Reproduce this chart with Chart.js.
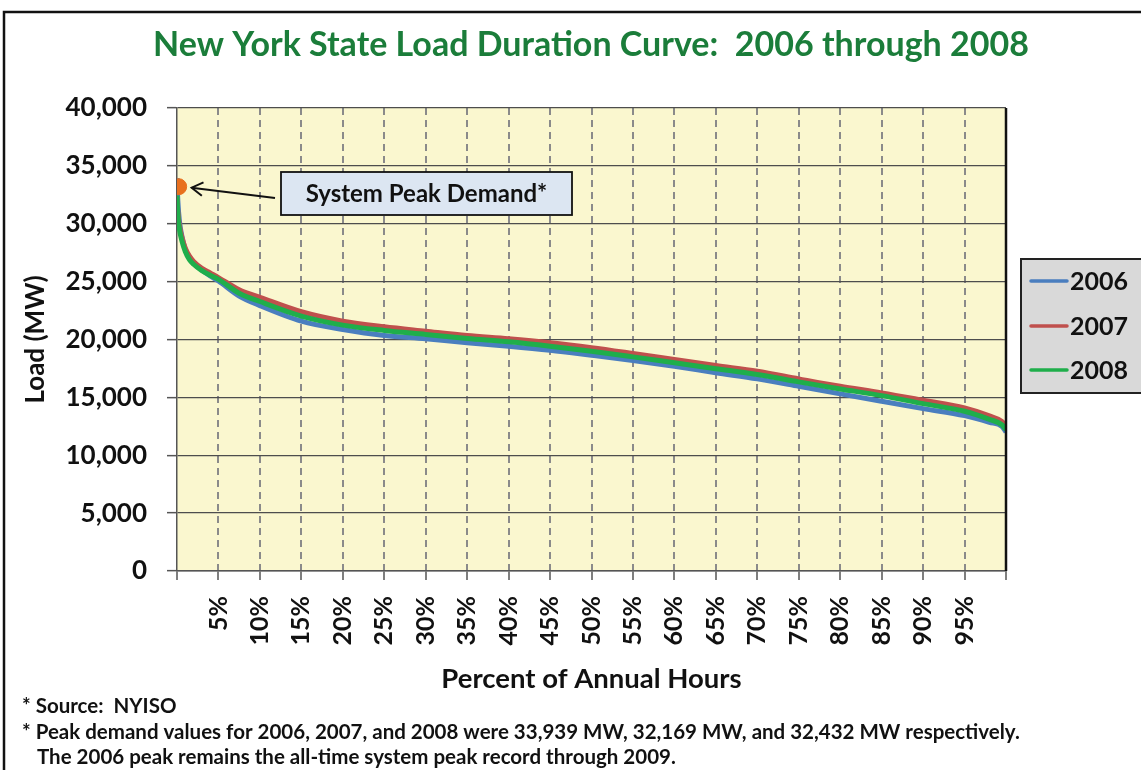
<!DOCTYPE html>
<html>
<head>
<meta charset="utf-8">
<script src="https://cdn.jsdelivr.net/npm/chart.js@4.4.1/dist/chart.umd.min.js"></script>
<style>
  html, body { margin: 0; padding: 0; background: #ffffff; }
  #wrap { position: relative; width: 1141px; height: 770px; }
</style>
</head>
<body>
<div id="wrap"><canvas id="c" width="1141" height="770"></canvas></div>
<script>
// ---------------- DATA ----------------
const titleText = 'New York State Load Duration Curve:  2006 through 2008';
const xAxisTitle = 'Percent of Annual Hours';
const yAxisTitle = 'Load (MW)';
const seriesLabels = ['2006', '2007', '2008'];
const pctHours = [0, 0.1, 0.3, 0.6, 1, 1.5, 2, 3, 4, 5, 7.5, 10, 15, 20, 25, 30, 35, 40, 45, 50, 55, 60, 65, 70, 75, 80, 85, 90, 95, 98, 99.5, 100];
const load2006 = [33939, 32000, 30200, 28900, 27800, 27100, 26600, 26000, 25500, 25050, 23750, 22930, 21590, 20870, 20350, 20065, 19720, 19425, 19080, 18645, 18190, 17690, 17130, 16600, 15960, 15300, 14660, 14030, 13420, 12850, 12500, 12000];
const load2007 = [32169, 31000, 29800, 28800, 27900, 27200, 26750, 26150, 25750, 25350, 24300, 23650, 22400, 21590, 21100, 20720, 20350, 20065, 19720, 19290, 18790, 18270, 17750, 17260, 16600, 15960, 15390, 14750, 14090, 13400, 12930, 12500];
const load2008 = [32432, 30800, 29500, 28500, 27600, 26900, 26500, 25950, 25550, 25200, 24000, 23280, 22020, 21240, 20780, 20440, 20090, 19800, 19425, 18990, 18500, 17990, 17480, 16970, 16340, 15730, 15150, 14460, 13800, 13100, 12640, 12210];
const xTickValues = [5, 10, 15, 20, 25, 30, 35, 40, 45, 50, 55, 60, 65, 70, 75, 80, 85, 90, 95];
const yTickStep = 5000;
const yMax = 40000;
const peakMarker = { x: 0.2, y: 33200 };
const annotationText = 'System Peak Demand*';
const footnotes = [
  '* Source:  NYISO',
  '* Peak demand values for 2006, 2007, and 2008 were 33,939 MW, 32,169 MW, and 32,432 MW respectively.',
  'The 2006 peak remains the all-time system peak record through 2009.'
];

// ---------------- STYLE ----------------
const colors = ['#4a7ebf', '#c0504d', '#1fae4b'];
const FONT = 'Lato, "Open Sans", "Liberation Sans", sans-serif';

function toPoints(xs, ys) { return xs.map((x, i) => ({ x: x, y: ys[i] })); }

const seriesData = [load2006, load2007, load2008];
const datasets = seriesData.map((arr, i) => ({
  label: seriesLabels[i],
  data: toPoints(pctHours, arr),
  borderColor: colors[i],
  backgroundColor: colors[i],
  borderWidth: 5,
  pointRadius: 0,
  cubicInterpolationMode: 'monotone',
  fill: false,
  order: 3 - i
}));
datasets.push({
  label: 'peak',
  data: [peakMarker],
  showLine: false,
  pointRadius: 8,
  pointHoverRadius: 8,
  pointBackgroundColor: '#e8701f',
  pointBorderColor: '#e8701f',
  order: 0,
  isMarker: true
});

const decor = {
  id: 'decor',
  beforeDraw(chart) {
    const ctx = chart.ctx;
    const a = chart.chartArea;
    ctx.save();
    ctx.fillStyle = '#ffffff';
    ctx.fillRect(0, 0, chart.width, chart.height);
    ctx.strokeStyle = '#111';
    ctx.lineWidth = 2.5;
    ctx.strokeRect(4, 12, chart.width + 20, chart.height + 20);
    ctx.fillStyle = '#faf7cf';
    ctx.fillRect(a.left, a.top, a.right - a.left, a.bottom - a.top);
    ctx.restore();
  },
  afterDatasetsDraw(chart) {
    const ctx = chart.ctx;
    const xs = chart.scales.x, ys = chart.scales.y;
    const px = xs.getPixelForValue(peakMarker.x);
    const py = ys.getPixelForValue(peakMarker.y);
    ctx.save();
    // annotation box
    const bx = 281, by = 172, bw = 291, bh = 43;
    ctx.fillStyle = '#dce6f2';
    ctx.fillRect(bx, by, bw, bh);
    ctx.strokeStyle = '#111';
    ctx.lineWidth = 1.8;
    ctx.strokeRect(bx, by, bw, bh);
    ctx.fillStyle = '#111';
    ctx.font = 'bold 24px ' + FONT;
    ctx.textAlign = 'center';
    ctx.textBaseline = 'middle';
    ctx.fillText(annotationText, bx + bw / 2, by + bh / 2 + 1);
    // arrow
    const tipX = px + 13, tipY = py + 1;
    const tailX = 275, tailY = 198;
    ctx.strokeStyle = '#111';
    ctx.lineWidth = 2;
    ctx.beginPath();
    ctx.moveTo(tailX, tailY);
    ctx.lineTo(tipX, tipY);
    ctx.stroke();
    const ang = Math.atan2(tailY - tipY, tailX - tipX);
    const hl = 13, hw = 0.55;
    ctx.beginPath();
    ctx.moveTo(tipX + hl * Math.cos(ang - hw), tipY + hl * Math.sin(ang - hw));
    ctx.lineTo(tipX, tipY);
    ctx.lineTo(tipX + hl * Math.cos(ang + hw), tipY + hl * Math.sin(ang + hw));
    ctx.stroke();
    ctx.restore();
  },
  afterDraw(chart) {
    const ctx = chart.ctx;
    const a = chart.chartArea;
    ctx.save();
    // plot right border
    ctx.strokeStyle = '#111';
    ctx.lineWidth = 2.5;
    ctx.beginPath();
    ctx.moveTo(a.right, a.top);
    ctx.lineTo(a.right, a.bottom);
    ctx.stroke();
    // title
    ctx.fillStyle = '#1b7d3a';
    ctx.font = 'bold 34px ' + FONT;
    ctx.textAlign = 'center';
    ctx.textBaseline = 'middle';
    ctx.fillText(titleText, 591, 45);
    // footnotes
    ctx.fillStyle = '#111';
    ctx.font = 'bold 20.5px ' + FONT;
    ctx.textAlign = 'left';
    ctx.fillText(footnotes[0], 22, 706);
    ctx.fillText(footnotes[1], 22, 732);
    ctx.fillText(footnotes[2], 37, 757);
    // legend
    const lx = 1021, ly = 259, lw = 130, lh = 134;
    ctx.fillStyle = '#d9d9d9';
    ctx.fillRect(lx, ly, lw, lh);
    ctx.strokeStyle = '#222';
    ctx.lineWidth = 2;
    ctx.strokeRect(lx, ly, lw, lh);
    const rows = [281, 326, 370];
    chart.data.datasets.filter(d => !d.isMarker).forEach((d, i) => {
      ctx.strokeStyle = d.borderColor;
      ctx.lineWidth = 3.5;
      ctx.lineCap = 'round';
      ctx.beginPath();
      ctx.moveTo(1031, rows[i]);
      ctx.lineTo(1067, rows[i]);
      ctx.stroke();
      ctx.fillStyle = '#111';
      ctx.font = 'bold 25px ' + FONT;
      ctx.textAlign = 'left';
      ctx.textBaseline = 'middle';
      ctx.fillText(d.label, 1070, rows[i] + 1);
    });
    ctx.restore();
  }
};

new Chart(document.getElementById('c'), {
  type: 'line',
  data: { datasets: datasets },
  options: {
    responsive: false,
    animation: false,
    events: [],
    layout: { padding: { top: 108, right: 135, bottom: 74, left: 0 } },
    plugins: {
      legend: { display: false },
      title: { display: false },
      tooltip: { enabled: false }
    },
    scales: {
      x: {
        type: 'linear',
        min: 0,
        max: 100,
        afterFit(s) { s.height = 125; },
        afterBuildTicks(s) {
          s.ticks = [0].concat(xTickValues, [100]).map(v => ({ value: v }));
        },
        ticks: {
          autoSkip: false,
          maxRotation: 90,
          minRotation: 90,
          padding: 16,
          color: '#111',
          font: { family: FONT, size: 25, weight: 'bold' },
          callback: v => (xTickValues.includes(v) ? v + '%' : '')
        },
        grid: {
          color: c => (c.tick && (c.tick.value === 0 || c.tick.value === 100)) ? 'rgba(0,0,0,0)' : '#8a8a8a',
          lineWidth: 2,
          tickLength: 9,
          tickColor: '#555',
          tickWidth: 1.5,
          tickBorderDash: []
        },
        border: { display: true, color: '#555', width: 1.5, dash: [7, 5] },
        title: {
          display: true,
          text: xAxisTitle,
          color: '#111',
          font: { family: FONT, size: 27.5, weight: 'bold' },
          padding: { top: 0, bottom: 0 }
        }
      },
      y: {
        min: 0,
        max: yMax,
        afterFit(s) { s.width = 177; },
        ticks: {
          stepSize: yTickStep,
          padding: 20,
          color: '#111',
          font: { family: FONT, size: 26, weight: 'bold' },
          callback: v => Number(v).toLocaleString('en-US')
        },
        grid: {
          color: '#4d4d4d',
          lineWidth: 1.3,
          tickLength: 10,
          tickColor: '#555',
          tickWidth: 1.5
        },
        border: { display: true, color: '#555', width: 1.5 },
        title: {
          display: true,
          text: yAxisTitle,
          color: '#111',
          font: { family: FONT, size: 26, weight: 'bold' },
          padding: { top: 20, bottom: 0 }
        }
      }
    }
  },
  plugins: [decor]
});
</script>
</body>
</html>
